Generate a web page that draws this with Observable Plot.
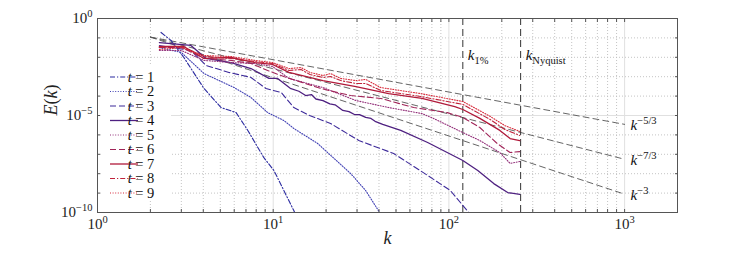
<!DOCTYPE html>
<html><head><meta charset="utf-8">
<script src="https://cdn.jsdelivr.net/npm/d3@7"></script>
<script src="https://cdn.jsdelivr.net/npm/@observablehq/plot@0.6"></script>
<style>
body{margin:0;background:#fff}
svg{font-family:"Liberation Serif","DejaVu Serif",serif}
</style>
</head><body><div id="chart"></div>
<script>
// ---- data ----
const times = [1,2,3,4,5,6,7,8,9];

const k1 = [2.3, 2.62, 3.1, 4.04, 5.05, 6.15, 7.17, 8.83, 10.1, 11.5, 13.1, 13.4];
const E1 = [0.191, 0.0741, 9.8e-3, 2.45e-4, 2.57e-5, 1.41e-5, 1.70e-6, 6.92e-8, 1.45e-8, 1.35e-9, 1.26e-10, 7.9e-11];

const k2 = [2.25, 3.0, 4.04, 6.0, 7.47, 9.3, 11.5, 13.1, 17.9, 27.6, 33.6, 39.7, 41];
const E2 = [0.0316, 0.0178, 1.45e-3, 2.75e-4, 8.51e-5, 1.41e-5, 5.5e-6, 2.14e-6, 3.63e-7, 1.02e-8, 1.35e-9, 1.26e-10, 7.9e-11];

const k3 = [2.25, 3.4, 4.15, 5.6, 7.47, 9.1, 11.1, 13.1, 16.1, 21.2, 30.7, 48.5, 75.7, 102, 127, 135];
const E3 = [0.0398, 0.0224, 3.8e-3, 1.66e-3, 9.12e-4, 2.45e-4, 1.55e-4, 2.57e-5, 1.0e-5, 3.89e-6, 5.13e-7, 1.10e-7, 8.13e-9, 1.35e-9, 1.26e-10, 6.3e-11];

const k4 = [2.25, 3.4, 4.15, 5.75, 7.47, 9.46, 10.6, 12.5, 14, 15.3, 16.5, 17.5, 19.2, 21, 22.5, 24.9, 27, 29, 31, 33.6, 36, 38, 42, 53.2, 75.7, 120, 146, 180, 216, 253];
const E4 = [0.0575, 0.0407, 8.71e-3, 5.37e-3, 2.63e-3, 8.13e-4, 8.13e-4, 2.51e-4, 1.78e-4, 1.07e-4, 1.20e-4, 7.08e-5, 5.89e-5, 3.98e-5, 3.55e-5, 1.82e-5, 1.58e-5, 1.12e-5, 1.12e-5, 7.94e-6, 7.08e-6, 5.01e-6, 3.47e-6, 1.70e-6, 4.07e-7, 4.79e-8, 1.45e-8, 3.09e-9, 1.07e-9, 8.51e-10];

const k5 = [2.25, 3.0, 4.04, 5.75, 7.9, 9.9, 12.3, 19.2, 29.6, 45.4, 70.3, 81.6, 120, 150, 195, 223, 253];
const E5 = [0.0224, 0.0224, 6.92e-3, 5.37e-3, 4.79e-3, 3.39e-3, 8.13e-4, 2.75e-4, 5.89e-5, 2.57e-5, 1.26e-5, 7.08e-6, 1.32e-6, 5.13e-7, 1.23e-7, 3.39e-8, 4.27e-8];

const k6 = [2.25, 3.0, 4.04, 5.75, 7.47, 9.3, 11.5, 18.7, 27.6, 41, 63, 98, 120, 150, 188, 223, 253];
const E6 = [0.0324, 0.0324, 8.71e-3, 6.92e-3, 4.79e-3, 2.09e-3, 1.02e-3, 2.45e-4, 1.07e-4, 7.59e-5, 2.57e-5, 1.41e-5, 7.94e-6, 2.40e-6, 3.63e-7, 1.23e-7, 1.38e-7];

const k7 = [2.25, 3.1, 4.04, 5.75, 7.9, 9.9, 12.3, 19.2, 29.6, 45.4, 70.3, 108, 120, 150, 195, 223, 253];
const E7 = [0.0363, 0.0363, 8.71e-3, 9.77e-3, 5.37e-3, 4.27e-3, 1.66e-3, 6.31e-4, 3.09e-4, 1.35e-4, 7.59e-5, 2.88e-5, 2.04e-5, 7.08e-6, 1.70e-6, 6.46e-7, 5.13e-7];

const k8 = [2.25, 3.0, 4.04, 5.75, 7.9, 9.9, 12.3, 14.4, 16.2, 19.2, 21.2, 24.2, 29.6, 33.6, 41, 69, 120, 172, 208, 253];
const E8 = [0.0324, 0.0363, 0.0110, 8.71e-3, 6.03e-3, 4.79e-3, 2.09e-3, 2.34e-3, 1.29e-3, 9.12e-4, 1.02e-3, 6.31e-4, 4.47e-4, 4.47e-4, 1.95e-4, 9.55e-5, 3.72e-5, 6.17e-6, 1.91e-6, 9.33e-7];

const k9 = [2.25, 3.0, 4.04, 5.75, 7.9, 9.9, 12.3, 14.4, 16.2, 19.2, 21.2, 24.2, 29.6, 33.6, 41, 69, 120, 172, 208, 253];
const E9 = [0.0251, 0.0316, 0.0123, 0.0110, 6.92e-3, 5.37e-3, 2.63e-3, 2.95e-3, 1.66e-3, 1.15e-3, 1.45e-3, 8.13e-4, 6.31e-4, 7.24e-4, 2.75e-4, 1.35e-4, 5.25e-5, 8.91e-6, 3.02e-6, 1.51e-6];

// reference power laws (start and end points)
const refK = [2, 1000];
const refE53 = [0.11, 3.49e-6];
const refE73 = [0.11, 5.54e-8];
const refE3 = [0.11, 8.8e-10];
const refLabels = ["*k*^{−5/3}", "*k*^{−7/3}", "*k*^{−3}"];

// special wavenumbers
const markK = [120, 256];
const markLabels = ["*k*_{1%}", "*k*_{Nyquist}"];

// axis ticks and titles
const kMajor = [1, 10, 100, 1000];
const kMinor = [2,3,4,5,6,7,8,9,20,30,40,50,60,70,80,90,200,300,400,500,600,700,800,900];
const kMajorLabels = ["10^{0}", "10^{1}", "10^{2}", "10^{3}"];
const eMajor = [1, 1e-5, 1e-10];
const eMinor = [1e-1,1e-2,1e-3,1e-4,1e-6,1e-7,1e-8,1e-9];
const eMajorLabels = ["10^{0}", "10^{−5}", "10^{−10}"];
const xTitle = "*k*";
const yTitle = "*E*(*k*)";

// ---- styles ----
const colors = ["#2b2ba0", "#4040b4", "#3d2a9a", "#4e2080", "#93307a", "#a02458", "#b01a3a", "#c0223a", "#d82c3c"];
const dashes = ["5,2,1.2,2", "1,1.6", "6,3", null, "1,1.6", "6,3", null, "5,2,1.2,2", "1,1.6"];
const widths = [1.1, 1.1, 1.1, 1.3, 1.1, 1.1, 1.3, 1.1, 1.1];

// ---- build tables ----
const ks = [k1,k2,k3,k4,k5,k6,k7,k8,k9];
const Es = [E1,E2,E3,E4,E5,E6,E7,E8,E9];
const series = times.map((t, i) => ks[i].map((k, j) => ({t, k, E: Es[i][j]})));
const refs = [refE53, refE73, refE3].map((arr, i) => refK.map((k, j) => ({i, k, E: arr[j]})));
const refEnds = refs.map((r, i) => ({k: r[1].k, E: r[1].E, label: refLabels[i]}));
const marks = markK.map((k, i) => ({k, label: markLabels[i]}));

const fmtK = d => kMajorLabels[kMajor.indexOf(d)];
const fmtE = d => eMajorLabels[eMajor.indexOf(d)];

const chart = Plot.plot({
  width: 747, height: 253,
  marginLeft: 97, marginRight: 70, marginTop: 18, marginBottom: 41,
  x: {type: "log", domain: [1, 2000]},
  y: {type: "log", domain: [1e-10, 1]},
  marks: [
    Plot.ruleX(kMinor, {stroke: "#bdbdbd", strokeDasharray: "1,2", strokeWidth: 0.9}),
    Plot.ruleY(eMinor, {stroke: "#bdbdbd", strokeDasharray: "1,2", strokeWidth: 0.9}),
    Plot.ruleX(kMajor, {stroke: "#e0e0e0", strokeWidth: 1}),
    Plot.ruleY(eMajor, {stroke: "#e0e0e0", strokeWidth: 1}),
    ...refs.map(r => Plot.line(r, {x: "k", y: "E", stroke: "#555", strokeWidth: 0.9, strokeDasharray: "6,4"})),
    Plot.ruleX(marks, {x: "k", stroke: "#333", strokeWidth: 1, strokeDasharray: "7,4"}),
    ...series.map((s, i) => Plot.line(s, {x: "k", y: "E", stroke: colors[i], strokeWidth: widths[i], strokeDasharray: dashes[i], clip: true})),
    Plot.text(refEnds, {x: "k", y: "E", text: "label", textAnchor: "start", dx: 6, dy: 1, fontSize: 15, fill: "#111"}),
    Plot.text(marks, {x: "k", frameAnchor: "top", text: "label", textAnchor: "start", dx: 5, dy: 31, fontSize: 15, fill: "#111"}),
    Plot.frame({stroke: "#555", strokeWidth: 1}),
    Plot.axisX([...kMajor, ...kMinor], {anchor: "bottom", tickSize: -3, tickFormat: () => "", label: null, stroke: "#555"}),
    Plot.axisX([...kMajor, ...kMinor], {anchor: "top", tickSize: -3, tickFormat: () => "", label: null, stroke: "#555"}),
    Plot.axisY([...eMajor, ...eMinor], {anchor: "left", tickSize: -3, tickFormat: () => "", label: null, stroke: "#555"}),
    Plot.axisY([...eMajor, ...eMinor], {anchor: "right", tickSize: -3, tickFormat: () => "", label: null, stroke: "#555"}),
    Plot.axisX(kMajor, {anchor: "bottom", tickSize: 0, tickPadding: 6, tickFormat: fmtK, fontSize: 15, fill: "#222", label: null}),
    Plot.axisY(eMajor, {anchor: "left", tickSize: 0, tickPadding: 5, tickFormat: fmtE, fontSize: 15, fill: "#222", label: null}),
    Plot.text([xTitle], {frameAnchor: "bottom", text: d => d, dy: 31, fontSize: 18, fill: "#222"}),
    Plot.text([yTitle], {frameAnchor: "left", text: d => d, dx: -46, rotate: -90, fontSize: 18, fill: "#222"})
  ]
});
document.getElementById("chart").appendChild(chart);

// ---- legend (inside the plot area, upper left) ----
const svg = d3.select(chart);
const lg = svg.append("g").attr("class", "legend");
lg.append("rect").attr("x", 101).attr("y", 66).attr("width", 70).attr("height", 135).attr("fill", "#fff");
times.forEach((t, i) => {
  const yy = 77 + i * 14.5;
  lg.append("line").attr("x1", 110).attr("x2", 138).attr("y1", yy).attr("y2", yy)
    .attr("stroke", colors[i]).attr("stroke-width", widths[i])
    .attr("stroke-dasharray", dashes[i]);
  lg.append("text").attr("x", 141).attr("y", yy).attr("dy", "0.34em")
    .attr("font-size", 14.5).attr("fill", "#111").text(`*t* = ${t}`);
});

// ---- rich text: *italic*, ^{sup}, _{sub} ----
function rich(el) {
  const raw = el.textContent;
  if (!/[\^_*]/.test(raw)) return;
  const fs = parseFloat(getComputedStyle(el).fontSize) || 14;
  while (el.firstChild) el.removeChild(el.firstChild);
  const ns = "http://www.w3.org/2000/svg";
  let shift = 0, italic = false, buf = "";
  const emit = (s, mode) => {
    if (!s) return;
    const ts = document.createElementNS(ns, "tspan");
    ts.textContent = s;
    const target = mode === "sup" ? -fs * 0.42 : mode === "sub" ? fs * 0.28 : 0;
    const dy = target - shift;
    if (dy) ts.setAttribute("dy", dy);
    shift = target;
    if (mode) ts.setAttribute("font-size", fs * 0.7);
    if (italic && !mode) ts.setAttribute("font-style", "italic");
    el.appendChild(ts);
  };
  for (let i = 0; i < raw.length; i++) {
    const c = raw[i];
    if (c === "*") { emit(buf, null); buf = ""; italic = !italic; continue; }
    if ((c === "^" || c === "_") && raw[i + 1] === "{") {
      emit(buf, null); buf = "";
      const j = raw.indexOf("}", i);
      emit(raw.slice(i + 2, j), c === "^" ? "sup" : "sub");
      i = j; continue;
    }
    buf += c;
  }
  emit(buf, null);
}
svg.selectAll("text").each(function() { rich(this); });
</script>
</body></html>
